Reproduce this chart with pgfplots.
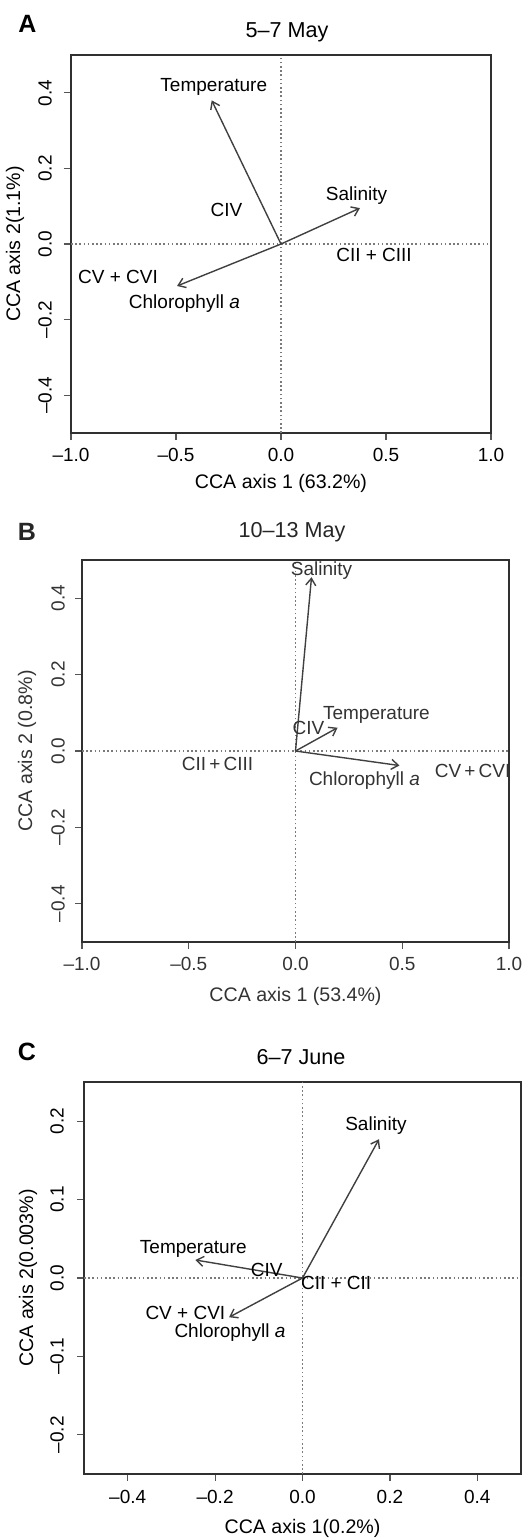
\documentclass[border=0pt]{standalone}
\usepackage{pgfplots}
\pgfplotsset{compat=1.18}
\usepackage{fontspec}
\setmainfont{Liberation Sans}
\usetikzlibrary{arrows.meta}
\definecolor{boxc}{HTML}{303030}
\definecolor{tickc}{HTML}{555555}
\definecolor{arrc}{HTML}{404040}
\definecolor{dotc}{HTML}{7A7A7A}
\tikzset{
  lab/.style={font=\fontsize{9.5}{11}\selectfont, anchor=center, inner sep=0pt},
  panel/.style={font=\fontsize{12.5}{14}\bfseries, anchor=center, inner sep=0pt},
}
\pgfplotsset{
  ccastyle/.style={
    scale only axis, anchor=south west,
    axis line style={boxc, line width=0.9pt},
    tick style={tickc, line width=0.6pt},
    major tick length=3.5pt,
    tick align=outside,
    xtick pos=bottom, ytick pos=left,
    ticklabel style={font=\fontsize{9.5}{11}\selectfont, text=black},
    yticklabel style={rotate=90, anchor=center},
    xticklabel style={anchor=center},
    label style={font=\fontsize{9.8}{12}\selectfont},
    xlabel style={at={(axis description cs:0.5,0)}, anchor=center},
    ylabel style={at={(axis description cs:0,0.5)}, anchor=center},
  },
  arr/.style={arrc, line width=0.7pt, -{Straight Barb[length=3.5pt,width=5pt]}},
  dotline/.style={dotc, line width=0.8pt, dash pattern=on 0.8pt off 1.3pt},
}
\begin{document}
\begin{tikzpicture}
\useasboundingbox (0,0) rectangle (263pt,-769pt);
% ---------- Panel A ----------
\node[panel] at (13.75pt,-12pt) {A};
\node[font=\fontsize{10.8}{13}\selectfont] at (143.5pt,-16pt) {5–7 May};
\begin{axis}[ccastyle,
  at={(35.5pt,-216.5pt)}, width=210pt, height=189pt,
  xmin=-1, xmax=1, ymin=-0.5, ymax=0.5,
  xtick={-1,-0.5,0,0.5,1}, xticklabels={–1.0,–0.5,0.0,0.5,1.0},
  ytick={-0.4,-0.2,0,0.2,0.4}, yticklabels={–0.4,–0.2,0.0,0.2,0.4},
  xticklabel shift=7.5pt, yticklabel shift=9.5pt,
  xlabel={CCA axis 1 (63.2\%)}, ylabel={CCA axis 2(1.1\%)},
  xlabel style={yshift=-25pt}, ylabel style={yshift=28pt},
]
\addplot[dotline] coordinates {(0,-0.5) (0,0.5)};
\addplot[dotline] coordinates {(-1,0) (1,0)};
\addplot[arr] coordinates {(0,0) (-0.33,0.38)};
\addplot[arr] coordinates {(0,0) (0.376,0.095)};
\addplot[arr] coordinates {(0,0) (-0.495,-0.111)};
\node[lab] at (axis cs:-0.32,0.416) {Temperature};
\node[lab] at (axis cs:0.36,0.127) {Salinity};
\node[lab] at (axis cs:-0.26,0.09) {CIV};
\node[lab] at (axis cs:0.443,-0.029) {CII + CIII};
\node[lab] at (axis cs:-0.776,-0.087) {CV + CVI};
\node[lab] at (axis cs:-0.46,-0.157) {Chlorophyll \textit{a}};
\end{axis}
% ---------- Panel B ----------
\node[panel, text=black!85] at (13.5pt,-266pt) {B};
\node[font=\fontsize{10.8}{13}\selectfont, text=black!85] at (146pt,-266pt) {10–13 May};
\begin{axis}[ccastyle,
  at={(41pt,-471pt)}, width=213.5pt, height=191pt,
  xmin=-1, xmax=1, ymin=-0.5, ymax=0.5,
  xtick={-1,-0.5,0,0.5,1}, xticklabels={–1.0,–0.5,0.0,0.5,1.0},
  ytick={-0.4,-0.2,0,0.2,0.4}, yticklabels={–0.4,–0.2,0.0,0.2,0.4},
  xticklabel shift=7.5pt, yticklabel shift=8.5pt,
  ticklabel style={text=black!80},
  xlabel={CCA axis 1 (53.4\%)}, ylabel={CCA axis 2 (0.8\%)},
  label style={text=black!80},
  xlabel style={yshift=-27pt}, ylabel style={yshift=27.5pt},
]
\addplot[dotline] coordinates {(0,-0.5) (0,0.5)};
\addplot[dotline] coordinates {(-1,0) (1,0)};
\addplot[arr] coordinates {(0,0) (0.075,0.455)};
\addplot[arr] coordinates {(0,0) (0.197,0.061)};
\addplot[arr] coordinates {(0,0) (0.487,-0.038)};
\node[lab, text=black!80] at (axis cs:0.122,0.473) {Salinity};
\node[lab, text=black!80] at (axis cs:0.379,0.095) {Temperature};
\node[lab, text=black!80] at (axis cs:0.061,0.061) {CIV};
\node[lab, text=black!80] at (axis cs:-0.365,-0.035) {CII\,+\,CIII};
\node[lab, text=black!80] at (axis cs:0.323,-0.077) {Chlorophyll \textit{a}};
\begin{scope}
\clip (axis cs:-1,-0.5) rectangle (axis cs:0.995,0.5);
\node[lab, text=black!80, anchor=west] at (axis cs:0.651,-0.053) {CV\,+\,CVI};
\end{scope}
\end{axis}
% ---------- Panel C ----------
\node[panel] at (13.5pt,-526pt) {C};
\node[font=\fontsize{10.8}{13}\selectfont] at (150.5pt,-528.5pt) {6–7 June};
\begin{axis}[ccastyle,
  at={(42pt,-737pt)}, width=218.5pt, height=196pt,
  xmin=-0.5, xmax=0.5, ymin=-0.25, ymax=0.25,
  xtick={-0.4,-0.2,0,0.2,0.4}, xticklabels={–0.4,–0.2,0.0,0.2,0.4},
  ytick={-0.2,-0.1,0,0.1,0.2}, yticklabels={–0.2,–0.1,0.0,0.1,0.2},
  xticklabel shift=8pt, yticklabel shift=10pt,
  xlabel={CCA axis 1(0.2\%)}, ylabel={CCA axis 2(0.003\%)},
  xlabel style={yshift=-27pt}, ylabel style={yshift=28pt},
]
\addplot[dotline] coordinates {(0,-0.25) (0,0.25)};
\addplot[dotline] coordinates {(-0.5,0) (0.5,0)};
\addplot[arr] coordinates {(0,0) (0.175,0.177)};
\addplot[arr] coordinates {(0,0) (-0.245,0.023)};
\addplot[arr] coordinates {(0,0) (-0.168,-0.05)};
\node[lab] at (axis cs:0.168,0.195) {Salinity};
\node[lab] at (axis cs:-0.25,0.037) {Temperature};
\node[lab] at (axis cs:-0.082,0.010) {CIV};
\node[lab] at (axis cs:0.077,-0.006) {CII + CII};
\node[lab] at (axis cs:-0.268,-0.044) {CV + CVI};
\node[lab] at (axis cs:-0.166,-0.07) {Chlorophyll \textit{a}};
\end{axis}
\end{tikzpicture}
\end{document}
